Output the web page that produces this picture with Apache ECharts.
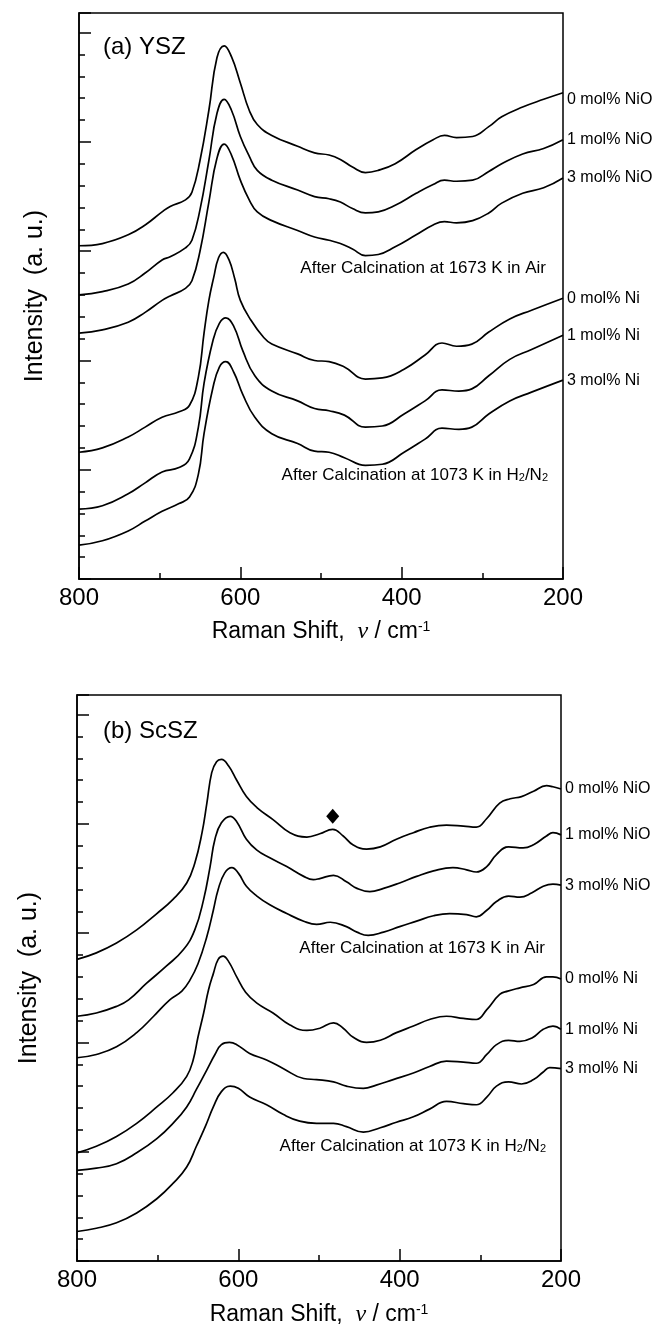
<!DOCTYPE html>
<html>
<head>
<meta charset="utf-8">
<script src="https://cdn.jsdelivr.net/npm/echarts@6/dist/echarts.min.js"></script>
<style>html,body{margin:0;padding:0;background:#fff}#c{width:667px;height:1328px}</style>
</head>
<body>
<div id="c"></div>
<script>
// ---------- DATA ----------
const xTickLabels = [800, 600, 400, 200];
const curveNames = ['0 mol% NiO', '1 mol% NiO', '3 mol% NiO', '0 mol% Ni', '1 mol% Ni', '3 mol% Ni'];

// (a) YSZ  [Raman shift (cm-1), intensity (a.u., offset)]
const ysz_0NiO = [[800,3.05],[771,3.07],[739,3.15],[718,3.24],[697,3.36],[687,3.41],[668,3.47],[660,3.54],[650,3.83],[639,4.29],[629,4.77],[620,4.88],[611,4.78],[600,4.54],[589,4.29],[579,4.16],[561,4.06],[529,3.96],[508,3.90],[490,3.88],[476,3.84],[461,3.77],[445,3.72],[429,3.74],[408,3.80],[382,3.93],[361,4.02],[347,4.06],[332,4.04],[312,4.05],[292,4.14],[276,4.23],[250,4.32],[224,4.39],[200,4.45]];
const ysz_1NiO = [[800,2.60],[771,2.63],[739,2.70],[718,2.80],[697,2.92],[687,2.95],[668,3.03],[660,3.10],[650,3.38],[639,3.83],[629,4.26],[620,4.39],[611,4.29],[600,4.05],[589,3.87],[579,3.74],[561,3.65],[529,3.56],[508,3.50],[490,3.48],[476,3.45],[461,3.39],[445,3.35],[429,3.36],[408,3.42],[382,3.53],[361,3.61],[347,3.65],[332,3.64],[312,3.65],[292,3.73],[276,3.80],[250,3.89],[224,3.94],[200,4.02]];
const ysz_3NiO = [[800,2.25],[771,2.28],[739,2.35],[718,2.44],[697,2.55],[687,2.59],[668,2.66],[660,2.73],[650,3.00],[639,3.45],[629,3.85],[620,3.98],[611,3.88],[600,3.65],[589,3.47],[579,3.36],[561,3.28],[529,3.19],[508,3.13],[490,3.10],[476,3.07],[461,3.02],[445,2.96],[429,2.97],[408,3.04],[382,3.15],[361,3.24],[347,3.27],[332,3.26],[312,3.28],[292,3.35],[276,3.44],[250,3.53],[224,3.58],[200,3.67]];
const ysz_0Ni = [[800,1.16],[771,1.20],[739,1.30],[718,1.39],[697,1.48],[676,1.53],[663,1.59],[652,1.85],[645,2.25],[639,2.55],[633,2.76],[627,2.94],[621,2.99],[614,2.92],[607,2.75],[600,2.55],[587,2.37],[571,2.21],[561,2.15],[529,2.06],[508,2.00],[490,1.99],[471,1.94],[445,1.83],[424,1.84],[397,1.92],[371,2.05],[350,2.16],[332,2.13],[313,2.15],[292,2.26],[266,2.38],[239,2.46],[200,2.57]];
const ysz_1Ni = [[800,0.64],[771,0.67],[739,0.78],[718,0.88],[697,0.98],[676,1.02],[663,1.10],[652,1.39],[645,1.79],[634,2.18],[626,2.34],[618,2.39],[608,2.31],[597,2.09],[582,1.86],[561,1.72],[529,1.63],[508,1.56],[490,1.54],[471,1.50],[445,1.39],[424,1.40],[397,1.51],[371,1.63],[350,1.73],[329,1.72],[313,1.74],[292,1.86],[266,2.01],[239,2.10],[200,2.23]];
const ysz_3Ni = [[800,0.31],[771,0.35],[739,0.44],[718,0.53],[697,0.62],[676,0.69],[663,0.75],[652,0.96],[645,1.33],[634,1.75],[626,1.94],[618,1.99],[608,1.89],[597,1.69],[582,1.48],[561,1.33],[529,1.24],[508,1.17],[490,1.16],[471,1.11],[445,1.04],[424,1.05],[397,1.16],[371,1.28],[350,1.38],[329,1.37],[313,1.39],[292,1.51],[266,1.63],[239,1.71],[200,1.82]];

// (b) ScSZ
const scsz_0NiO = [[800,2.76],[776,2.82],[751,2.91],[726,3.03],[701,3.18],[681,3.31],[664,3.46],[654,3.64],[645,3.92],[639,4.19],[633,4.47],[627,4.57],[621,4.59],[612,4.53],[602,4.40],[590,4.25],[577,4.15],[557,4.04],[536,3.92],[515,3.88],[499,3.91],[483,3.95],[470,3.89],[458,3.81],[441,3.77],[424,3.79],[404,3.86],[383,3.92],[363,3.97],[342,3.99],[321,3.98],[305,3.97],[292,4.05],[276,4.19],[263,4.23],[249,4.25],[234,4.30],[218,4.35],[210,4.34],[200,4.32]];
const scsz_1NiO = [[800,2.24],[776,2.27],[751,2.33],[736,2.39],[714,2.54],[689,2.70],[668,2.85],[654,3.03],[643,3.31],[635,3.61],[629,3.86],[621,4.01],[610,4.07],[602,4.02],[590,3.86],[577,3.76],[561,3.69],[540,3.61],[519,3.52],[507,3.49],[499,3.50],[482,3.53],[466,3.47],[453,3.41],[437,3.38],[420,3.41],[400,3.46],[379,3.52],[358,3.57],[334,3.60],[317,3.58],[305,3.56],[292,3.61],[280,3.72],[265,3.79],[247,3.78],[234,3.81],[218,3.89],[210,3.92],[200,3.90]];
const scsz_3NiO = [[800,1.86],[776,1.89],[751,1.96],[726,2.09],[705,2.24],[685,2.39],[670,2.47],[660,2.57],[650,2.72],[639,2.97],[631,3.21],[625,3.40],[617,3.55],[608,3.60],[600,3.55],[590,3.43],[577,3.34],[561,3.26],[540,3.18],[519,3.11],[503,3.08],[486,3.10],[466,3.06],[453,3.01],[439,2.98],[420,3.01],[400,3.06],[379,3.11],[358,3.16],[338,3.18],[317,3.17],[305,3.15],[292,3.21],[280,3.29],[265,3.34],[251,3.33],[236,3.37],[222,3.43],[210,3.45],[200,3.44]];
const scsz_0Ni = [[800,0.99],[776,1.05],[751,1.14],[726,1.26],[701,1.41],[681,1.54],[664,1.69],[656,1.84],[650,2.05],[643,2.27],[637,2.48],[631,2.63],[625,2.76],[619,2.79],[612,2.74],[602,2.60],[591,2.46],[577,2.36],[557,2.27],[536,2.16],[515,2.11],[499,2.13],[482,2.18],[470,2.13],[458,2.05],[441,2.00],[424,2.02],[404,2.09],[383,2.15],[363,2.21],[342,2.24],[321,2.22],[305,2.21],[292,2.30],[276,2.44],[266,2.47],[251,2.50],[234,2.53],[218,2.60],[210,2.60],[200,2.58]];
const scsz_1Ni = [[800,0.83],[776,0.85],[751,0.89],[726,0.99],[701,1.12],[681,1.26],[664,1.41],[652,1.57],[639,1.75],[629,1.89],[621,1.98],[611,2.00],[602,1.98],[586,1.90],[565,1.84],[544,1.76],[519,1.67],[503,1.66],[482,1.64],[466,1.60],[445,1.58],[429,1.61],[408,1.66],[383,1.72],[363,1.78],[342,1.83],[321,1.82],[305,1.81],[292,1.89],[280,1.98],[265,2.02],[251,2.01],[236,2.04],[222,2.12],[210,2.15],[200,2.12]];
const scsz_3Ni = [[800,0.27],[776,0.30],[751,0.35],[726,0.44],[701,0.57],[681,0.71],[664,0.86],[652,1.05],[641,1.23],[631,1.41],[621,1.55],[610,1.60],[600,1.58],[586,1.50],[565,1.43],[544,1.34],[524,1.28],[503,1.26],[482,1.26],[466,1.23],[445,1.18],[424,1.22],[404,1.27],[383,1.32],[363,1.39],[342,1.46],[321,1.44],[305,1.43],[292,1.50],[280,1.60],[265,1.64],[249,1.62],[234,1.66],[222,1.73],[214,1.77],[200,1.76]];

// diamond marker (ScSZ band)
const scszMarker = [[483, 4.07]];

// ---------- CHART ----------
const panelA = [ysz_0NiO, ysz_1NiO, ysz_3NiO, ysz_0Ni, ysz_1Ni, ysz_3Ni];
const panelB = [scsz_0NiO, scsz_1NiO, scsz_3NiO, scsz_0Ni, scsz_1Ni, scsz_3Ni];

const FONT = '"Liberation Sans", Arial, Helvetica, sans-serif';
const BLACK = '#000';
const Y_MAX = 5.18;

function xAxisDef(gi, nameGap) {
  return {
    type: 'value', gridIndex: gi, min: 200, max: 800, interval: 200, inverse: true,
    axisLine: { show: true, onZero: false, lineStyle: { color: BLACK, width: 1.5 } },
    axisTick: { show: true, inside: true, length: 12, lineStyle: { color: BLACK, width: 1.5 } },
    minorTick: { show: true, splitNumber: 2, length: 6, lineStyle: { color: BLACK, width: 1.5 } },
    axisLabel: {
      show: true, fontSize: 24, color: BLACK, fontFamily: FONT, margin: 7,
      formatter: v => (xTickLabels.indexOf(v) >= 0 ? String(v) : '')
    },
    splitLine: { show: false }, minorSplitLine: { show: false },
    name: 'Raman Shift,  {nu|\u03bd} / cm{sup|-1}',
    nameLocation: 'middle', nameGap: nameGap,
    nameTextStyle: {
      fontSize: 23, color: BLACK, fontFamily: FONT,
      rich: {
        nu: { fontSize: 24, fontStyle: 'italic', fontFamily: '"Liberation Serif", "DejaVu Serif", serif', color: BLACK },
        sup: { fontSize: 14, verticalAlign: 'top', lineHeight: 14, color: BLACK, fontFamily: FONT }
      }
    }
  };
}
function yMajor(gi, nameGap) {
  return {
    type: 'value', gridIndex: gi, position: 'left', min: 0, max: Y_MAX, interval: 1,
    axisLine: { show: true, onZero: false, lineStyle: { color: BLACK, width: 1.5 } },
    axisTick: { show: true, inside: true, length: 12, lineStyle: { color: BLACK, width: 1.5 } },
    axisLabel: { show: false }, splitLine: { show: false },
    name: 'Intensity  (a. u.)', nameLocation: 'middle', nameGap: nameGap, nameRotate: 90,
    nameTextStyle: { fontSize: 25, color: BLACK, fontFamily: FONT }
  };
}
function yMinor(gi) {
  return {
    type: 'value', gridIndex: gi, position: 'left', offset: 0, min: 0, max: Y_MAX, interval: 0.2,
    axisLine: { show: false },
    axisTick: { show: true, inside: true, length: 6, lineStyle: { color: BLACK, width: 1.5 } },
    axisLabel: { show: false }, splitLine: { show: false }
  };
}

const series = [];
function addPanel(arrs, xi, yi) {
  arrs.forEach((d, i) => {
    series.push({
      type: 'line', name: curveNames[i], xAxisIndex: xi, yAxisIndex: yi, data: d,
      showSymbol: false, smooth: 0.45, silent: true,
      lineStyle: { color: BLACK, width: 1.7 },
      endLabel: {
        show: true, formatter: '{a}', align: 'left', distance: -4,
        fontSize: 16, color: BLACK, fontFamily: FONT,
        offset: (xi === 0 && i === 0) ? [0, 7] : [0, 0]
      }
    });
  });
}
addPanel(panelA, 0, 0);
addPanel(panelB, 1, 2);
series.push({
  type: 'scatter', xAxisIndex: 1, yAxisIndex: 2, data: scszMarker,
  symbol: 'diamond', symbolSize: [13, 15], itemStyle: { color: BLACK, opacity: 1 }, silent: true
});

const subRich = { s: { fontSize: 11, verticalAlign: 'bottom', lineHeight: 8, fill: BLACK, fontFamily: FONT } };
function txt(x, y, text, size, align, rich) {
  const st = { text: text, fontSize: size, fontFamily: FONT, fill: BLACK, align: align, verticalAlign: 'middle' };
  if (rich) st.rich = rich;
  return { type: 'text', x: x, y: y, style: st, silent: true };
}

const option = {
  animation: false,
  backgroundColor: '#fff',
  grid: [
    { left: 79, top: 13, width: 484, height: 566, show: true, borderColor: BLACK, borderWidth: 1.5, backgroundColor: 'transparent' },
    { left: 77, top: 695, width: 484, height: 566, show: true, borderColor: BLACK, borderWidth: 1.5, backgroundColor: 'transparent' }
  ],
  xAxis: [xAxisDef(0, 41), xAxisDef(1, 42)],
  yAxis: [yMajor(0, 31), yMinor(0), yMajor(1, 35), yMinor(1)],
  series: series,
  graphic: [
    txt(103, 47, '(a) YSZ', 24, 'left'),
    txt(103, 731, '(b) ScSZ', 24, 'left'),
    txt(546, 268, 'After Calcination at 1673 K in Air', 17, 'right'),
    txt(548, 475, 'After Calcination at 1073 K in H{s|2}/N{s|2}', 17, 'right', subRich),
    txt(545, 948, 'After Calcination at 1673 K in Air', 17, 'right'),
    txt(546, 1146, 'After Calcination at 1073 K in H{s|2}/N{s|2}', 17, 'right', subRich)
  ]
};

const chart = echarts.init(document.getElementById('c'), null, { renderer: 'canvas' });
chart.setOption(option);
</script>
</body>
</html>
